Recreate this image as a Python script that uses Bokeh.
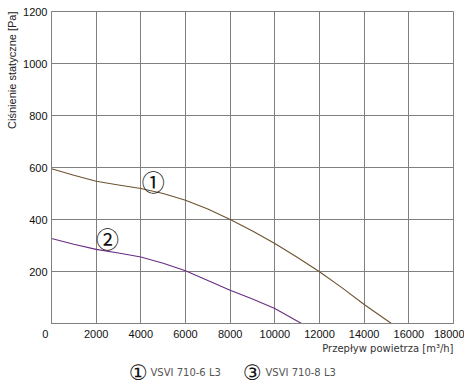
from bokeh.plotting import figure
from bokeh.layouts import column
from bokeh.models import Range1d, FixedTicker, Title
from bokeh.core.properties import value
from bokeh.embed import file_html
from bokeh.resources import INLINE

# Data
flow1 = [0, 1000, 2000, 3000, 4000, 5000, 6000, 7000, 8000, 9000, 10000, 11000, 12000, 13000, 14000, 15220]
pres1 = [595, 570, 547, 533, 519, 500, 474, 440, 400, 356, 308, 255, 199, 138, 73, 0]
flow2 = [0, 1000, 2000, 3000, 4000, 5000, 6000, 7000, 8000, 9000, 10000, 11194]
pres2 = [327, 305, 285, 271, 256, 232, 203, 165, 128, 94, 58, 0]

x_ticks = [0, 2000, 4000, 6000, 8000, 10000, 12000, 14000, 16000, 18000]
y_ticks = [0, 200, 400, 600, 800, 1000, 1200]

curve_labels = ["①", "②"]
curve_label_x = [4560, 2508]
curve_label_y = [548, 327]
legend_symbols = ["①", "③"]
legend_texts = ["VSVI 710-6 L3", "VSVI 710-8 L3"]

grid_color = "#808080"
tick_font = "Liberation Sans"

p = figure(frame_width=402, frame_height=312, min_border_left=49, min_border_right=11,
           min_border_top=11, min_border_bottom=36, output_backend="svg",
           toolbar_location=None, x_range=Range1d(0, 18000), y_range=Range1d(0, 1200))
p.background_fill_color = "white"
p.border_fill_color = "white"
p.outline_line_color = grid_color

for ax in (p.xaxis[0], p.yaxis[0]):
    ax.axis_line_color = grid_color
    ax.major_tick_line_color = None
    ax.minor_tick_line_color = None
    ax.major_tick_out = 0
    ax.major_tick_in = 0
    ax.minor_tick_out = 0
    ax.minor_tick_in = 0
    ax.axis_label_standoff = 0
    ax.major_label_text_font = tick_font
    ax.major_label_text_font_size = "11px"
    ax.major_label_text_color = "#111111"
    ax.major_label_standoff = 4

p.xaxis[0].ticker = FixedTicker(ticks=x_ticks)
p.yaxis[0].ticker = FixedTicker(ticks=y_ticks)
p.xaxis[0].major_label_overrides = {0: "0\u00a0\u00a0\u00a0\u00a0"}
p.yaxis[0].major_label_overrides = {0: ""}

p.xgrid[0].ticker = FixedTicker(ticks=x_ticks)
p.ygrid[0].ticker = FixedTicker(ticks=y_ticks)
for g in (p.xgrid[0], p.ygrid[0]):
    g.grid_line_color = grid_color
    g.grid_line_alpha = 1.0
    g.grid_line_width = 1

p.line(flow1, pres1, line_color="#6e532f", line_width=1.1)
p.line(flow2, pres2, line_color="#6a2c82", line_width=1.1)

p.text(x=curve_label_x, y=curve_label_y, text=curve_labels, text_font=value("Noto Sans CJK JP"),
       text_font_size="23px", text_align="center", text_baseline="middle", text_color="#111111",
       text_line_height=1.0)

# axis titles
yt = Title(text="Ciśnienie statyczne [Pa]", align="right", text_font=tick_font,
           text_font_size="11px", text_font_style="normal", text_color="#222222",
           standoff=6, offset=0, vertical_align="bottom")
p.add_layout(yt, "left")
xt = Title(text="Przepływ powietrza [m³/h]", align="right", text_font="DejaVu Sans",
           text_font_size="10px", text_font_style="normal", text_color="#333333",
           standoff=0, offset=0, vertical_align="top")
p.add_layout(xt, "below")

# legend strip (its frame aligns with the chart frame)
leg = figure(frame_width=402, frame_height=26, min_border=0, output_backend="svg",
             toolbar_location=None, x_range=Range1d(0, 402), y_range=Range1d(0, 26),
             x_axis_type=None, y_axis_type=None)
leg.outline_line_color = None
leg.xgrid.visible = False
leg.ygrid.visible = False
leg.text(x=[87, 201], y=[13, 13], text=legend_symbols, text_font=value("DejaVu Sans"),
         text_font_size="21px", text_align="center", text_baseline="middle", text_color="#111111",
         text_line_height=1.0)
leg.text(x=[99, 214], y=[13, 13], text=legend_texts, text_font=value("DejaVu Sans"),
         text_font_size="10px", text_align="left", text_baseline="middle", text_color="#555555",
         text_line_height=1.0)

layout = column(p, leg, spacing=0)
open("out.html", "w").write(file_html(layout, INLINE))
